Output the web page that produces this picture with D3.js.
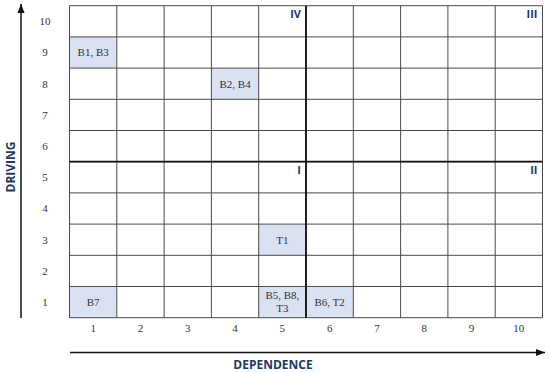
<!DOCTYPE html>
<html><head><meta charset="utf-8">
<script src="https://cdn.jsdelivr.net/npm/d3@7"></script>
<style>body{margin:0;background:#fff}svg{display:block}</style>
</head><body>
<svg id="c" width="550" height="373"></svg>
<script>
const ticks = [1,2,3,4,5,6,7,8,9,10];
const cellDep = [1, 4, 5, 1, 5, 6];
const cellDrv = [9, 8, 3, 1, 1, 1];
const cellLabels = [["B1, B3"],["B2, B4"],["T1"],["B7"],["B5, B8,","T3"],["B6, T2"]];
const quadNames = ["IV","III","I","II"];
const quadDep = [5, 10, 5, 10];
const quadDrv = [10, 10, 5, 5];
const xTitle = "DEPENDENCE", yTitle = "DRIVING";

const svg = d3.select("#c");
const L = 69.5, R = 542.5, T = 5.7, B = 317.7;
const x = d3.scaleBand().domain(ticks).range([L, R]);
const y = d3.scaleBand().domain(ticks.slice().reverse()).range([T, B]);
const navy = "#1f3864";
const serif = "'Liberation Serif', 'DejaVu Serif', serif";
const sans = "'Open Sans', 'Noto Sans', sans-serif";

// filled cells
svg.append("g").selectAll("rect").data(cellDep).join("rect")
  .attr("x", (d) => x(d)).attr("y", (d,i) => y(cellDrv[i]))
  .attr("width", x.bandwidth()).attr("height", y.bandwidth())
  .attr("fill", "#d9e1f2");

// grid lines
const g = svg.append("g").attr("stroke", "#4a4a4a").attr("stroke-width", 1);
const xs = ticks.map(t => x(t)).concat([R]);
const ys = ticks.map(t => y(t)).concat([B]);
g.selectAll("line.v").data(xs).join("line").attr("class","v")
  .attr("x1", d => d).attr("x2", d => d).attr("y1", T).attr("y2", B);
g.selectAll("line.h").data(ys).join("line").attr("class","h")
  .attr("y1", d => d).attr("y2", d => d).attr("x1", L).attr("x2", R);
// center lines
svg.append("line").attr("x1", x(6)).attr("x2", x(6)).attr("y1", T).attr("y2", B)
  .attr("stroke", "#111").attr("stroke-width", 1.8);
svg.append("line").attr("y1", y(5)).attr("y2", y(5)).attr("x1", L).attr("x2", R)
  .attr("stroke", "#111").attr("stroke-width", 1.8);

// cell labels
const cl = svg.append("g").attr("font-family", serif).attr("font-size", 11).attr("fill", "#333").attr("text-anchor", "middle");
cellLabels.forEach((lines, i) => {
  const cx = x(cellDep[i]) + x.bandwidth()/2;
  const cy = y(cellDrv[i]) + y.bandwidth()/2;
  const n = lines.length, lh = 13;
  lines.forEach((s, j) => {
    cl.append("text").attr("x", cx).attr("y", cy + (j - (n-1)/2)*lh).attr("dy", "0.35em").text(s);
  });
});

// quadrant labels
svg.append("g").selectAll("text").data(quadNames).join("text")
  .attr("x", (d,i) => x(quadDep[i]) + x.bandwidth() - 5)
  .attr("y", (d,i) => y(quadDrv[i]) + 12)
  .attr("text-anchor", "end").attr("font-family", sans).attr("font-weight", "bold")
  .attr("font-size", 11).attr("fill", navy).text(d => d);

// tick labels
svg.append("g").selectAll("text").data(ticks).join("text")
  .attr("x", d => x(d) + x.bandwidth()/2).attr("y", 328).attr("dy","0.35em")
  .attr("text-anchor","middle").attr("font-family", serif).attr("font-size", 11).attr("fill","#333").text(d => d);
svg.append("g").selectAll("text").data(ticks).join("text")
  .attr("x", 45).attr("y", d => y(d) + y.bandwidth()/2).attr("dy","0.35em")
  .attr("text-anchor","middle").attr("font-family", serif).attr("font-size", 11).attr("fill","#333").text(d => d);

// axis arrows
const defs = svg.append("defs");
defs.append("marker").attr("id","ah").attr("viewBox","0 0 10 10").attr("refX",10).attr("refY",5)
  .attr("markerWidth",6).attr("markerHeight",6).attr("orient","auto")
  .append("path").attr("d","M0,1 L10,5 L0,9 Z").attr("fill","#111");
svg.append("line").attr("x1", 21).attr("x2", 21).attr("y1", 318).attr("y2", 4)
  .attr("stroke","#111").attr("stroke-width",1.5).attr("marker-end","url(#ah)");
svg.append("line").attr("x1", 70).attr("x2", 545).attr("y1", 352.5).attr("y2", 352.5)
  .attr("stroke","#111").attr("stroke-width",1.5).attr("marker-end","url(#ah)");

// axis titles
svg.append("text").attr("x", 273).attr("y", 365).attr("dy","0.35em").attr("text-anchor","middle")
  .attr("font-family", sans).attr("font-weight","bold").attr("font-size", 12).attr("fill", navy).text(xTitle);
svg.append("text").attr("transform","translate(11,167) rotate(-90)").attr("dy","0.35em").attr("text-anchor","middle")
  .attr("font-family", sans).attr("font-weight","bold").attr("font-size", 12).attr("fill", navy).text(yTitle);
</script>
</body></html>
